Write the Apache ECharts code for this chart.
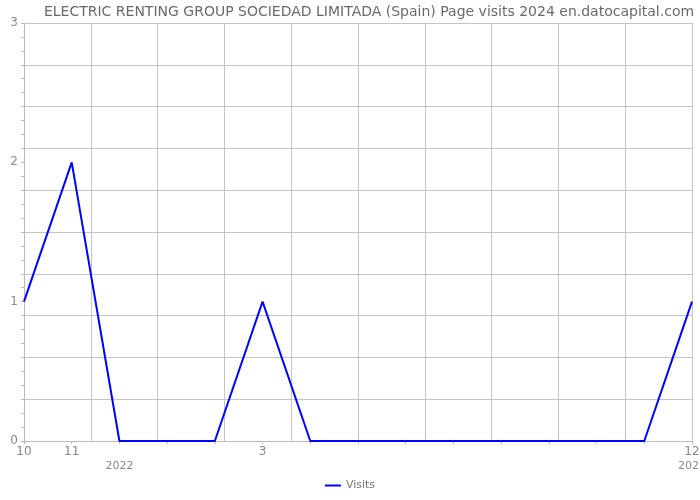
<!DOCTYPE html>
<html><head><meta charset="utf-8">
<script src="https://cdn.jsdelivr.net/npm/echarts@6/dist/echarts.min.js"></script>
<style>html,body{margin:0;padding:0;background:#fff}#c{width:700px;height:500px}</style>
</head><body><div id="c"></div>
<script>
const titleText = "ELECTRIC RENTING GROUP SOCIEDAD LIMITADA (Spain) Page visits 2024 en.datocapital.com";
const monthLabels = ["10","11","","","","3","","","","","","","","","12"];
const yearLabels = ["","","2022","","","","","","","","","","","","2023"];
const visits = [1,2,0,0,0,1,0,0,0,0,0,0,0,0,1];
const yTicks = [0,1,2,3];

const font = "DejaVu Sans";
const chart = echarts.init(document.getElementById('c'));
chart.setOption({
  animation:false,
  title:{text:titleText,left:364,textAlign:'center',top:0,textStyle:{fontFamily:font,fontSize:14,fontWeight:'normal',color:'#6a6a6a'}},
  legend:{bottom:4,left:'center',itemWidth:16,itemHeight:2,itemGap:5,icon:'rect',textStyle:{fontFamily:font,fontSize:11,color:'#777'},data:['Visits']},
  grid:{left:24,right:8,top:23,bottom:59,containLabel:false,outerBoundsMode:'none'},
  xAxis:[
    {type:'value',min:0,max:visits.length-1,interval:1,position:'bottom',
     axisLine:{show:true,lineStyle:{color:'#bbb'}},
     axisTick:{show:true,length:3,lineStyle:{color:'#bbb'}},
     splitLine:{show:false},
     axisLabel:{fontFamily:font,fontSize:12,color:'#888',margin:5,formatter:v=>monthLabels[v]||''}},
    {type:'value',min:0,max:visits.length-1,interval:1,position:'bottom',offset:16,
     axisLine:{show:false},
     axisTick:{show:true,length:3,lineStyle:{color:'#bbb'}},
     splitLine:{show:false},
     axisLabel:{fontFamily:font,fontSize:11,color:'#888',margin:4,formatter:v=>yearLabels[v]||''}},
    {type:'value',min:0,max:10,interval:1,show:true,position:'top',
     axisLine:{show:false},axisTick:{show:false},axisLabel:{show:false},
     splitLine:{show:true,lineStyle:{color:'#c4c4c4',width:1}}}
  ],
  yAxis:[
    {type:'value',min:yTicks[0],max:yTicks[yTicks.length-1],interval:1,
     axisLine:{show:true,lineStyle:{color:'#bbb'}},
     axisTick:{show:true,length:3,lineStyle:{color:'#bbb'}},
     minorTick:{show:true,splitNumber:10,length:3,lineStyle:{color:'#bbb'}},
     splitLine:{show:false},
     axisLabel:{fontFamily:font,fontSize:12,color:'#888',margin:6}},
    {type:'value',min:0,max:10,interval:1,position:'right',
     axisLine:{show:false},axisTick:{show:false},axisLabel:{show:false},
     splitLine:{show:true,lineStyle:{color:'#c4c4c4',width:1}}}
  ],
  series:[{name:'Visits',type:'line',xAxisIndex:0,yAxisIndex:0,data:visits.map((v,i)=>[i,v]),
    symbol:'none',lineStyle:{color:'#0000ff',width:2},itemStyle:{color:'#0000ff'}}]
});
</script></body></html>
